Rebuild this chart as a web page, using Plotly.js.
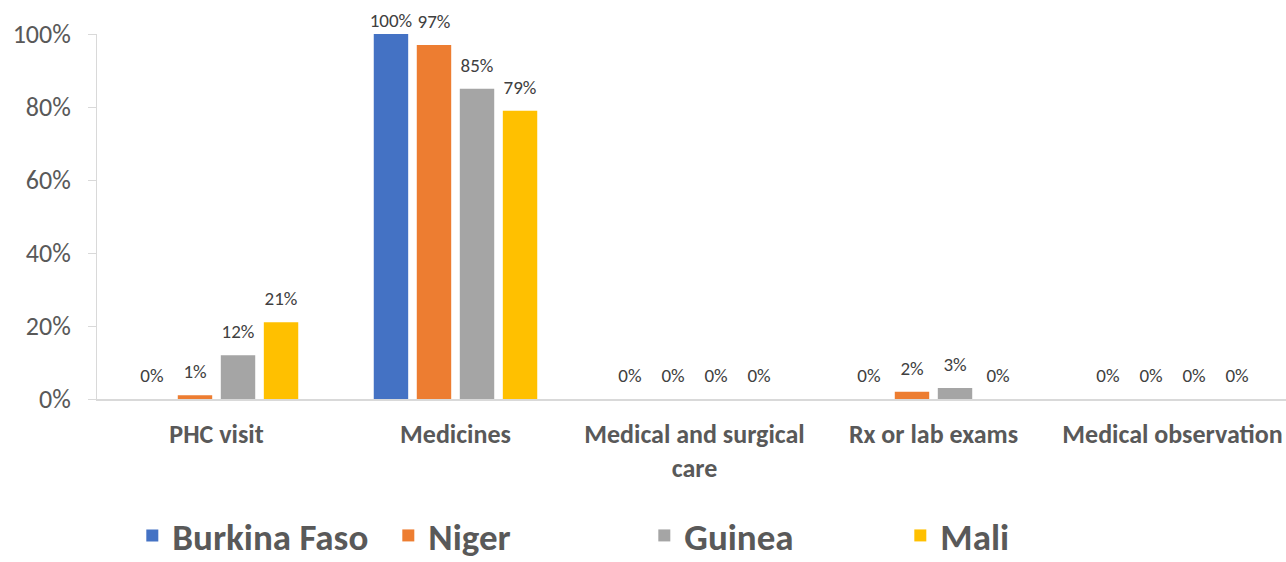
<!DOCTYPE html>
<html><head><meta charset="utf-8">
<script src="https://cdn.plot.ly/plotly-3.0.1.min.js"></script>
<style>html,body{margin:0;padding:0;background:#fff;overflow:hidden}#chart{width:1286px;height:562px}</style>
</head><body><div id="chart"></div>
<script>
const categories = ["PHC visit", "Medicines", "Medical and surgical<br>care", "Rx or lab exams", "Medical observation"];
const burkinaFaso = [0, 1.00, 0, 0, 0];
const niger = [0.01, 0.97, 0, 0.02, 0];
const guinea = [0.12, 0.85, 0, 0.03, 0];
const mali = [0.21, 0.79, 0, 0, 0];
const seriesNames = ["Burkina Faso", "Niger", "Guinea", "Mali"];
const seriesColors = ["#4472C4", "#ED7D31", "#A5A5A5", "#FFC000"];
const yTickVals = [0, 0.2, 0.4, 0.6, 0.8, 1.0];
const yTickText = ["0%", "20%", "40%", "60%", "80%", "100%"];

const FONT = "Carlito, 'Liberation Sans Narrow', 'Open Sans', sans-serif";
const allSeries = [burkinaFaso, niger, guinea, mali];
const barTraces = allSeries.map((vals, i) => ({
  type: "bar",
  name: seriesNames[i],
  x: categories,
  y: vals,
  offsetgroup: "g" + i,
  marker: {color: seriesColors[i]},
  hoverinfo: "x+y+name"
}));
// data labels: offset above each bar; labels at the axis top are squeezed down (as in the original)
const labelTraces = allSeries.map((vals, i) => ({
  type: "scatter",
  mode: "markers+text",
  name: seriesNames[i] + " labels",
  showlegend: false,
  x: categories,
  y: vals,
  offsetgroup: "g" + i,
  marker: {size: vals.map(v => v >= 0.995 ? 2 : 18), color: "rgba(0,0,0,0)",
           line: {width: 0, color: "rgba(0,0,0,0)"}},
  text: vals.map(v => Math.round(v * 100) + "%"),
  textposition: "top center",
  textfont: {family: FONT, size: 19, color: "#404040"},
  cliponaxis: false,
  hoverinfo: "skip"
}));

const layout = {
  width: 1292, height: 562,
  margin: {l: 97, r: 0, t: 34, b: 163, autoexpand: false},
  paper_bgcolor: "#fff", plot_bgcolor: "#fff",
  barmode: "group",
  scattermode: "group",
  bargap: 0.28,
  bargroupgap: 0.2,
  font: {family: FONT, color: "#595959"},
  xaxis: {
    showline: true, linecolor: "#d9d9d9", linewidth: 2,
    ticks: "", ticklabelstandoff: 11, automargin: false,
    tickfont: {family: FONT, size: 26, color: "#595959", weight: "bold"},
    showgrid: false, fixedrange: true
  },
  yaxis: {
    range: [0, 1], tickvals: yTickVals, ticktext: yTickText,
    showgrid: false, zeroline: false, automargin: false,
    showline: true, linecolor: "#d9d9d9", linewidth: 1,
    ticks: "outside", ticklen: 8, tickcolor: "#d9d9d9",
    ticklabelstandoff: 12,
    tickfont: {family: FONT, size: 26, color: "#595959"},
    fixedrange: true
  },
  showlegend: true,
  legend: {
    orientation: "h", x: 0.458, xanchor: "center", y: -0.375, yanchor: "middle",
    font: {family: FONT, size: 37, color: "#595959", weight: "bold"},
    entrywidth: 211, entrywidthmode: "pixels",
    itemwidth: 30, traceorder: "normal"
  }
};
Plotly.newPlot("chart", barTraces.concat(labelTraces), layout, {displayModeBar: false, staticPlot: true});
</script></body></html>
